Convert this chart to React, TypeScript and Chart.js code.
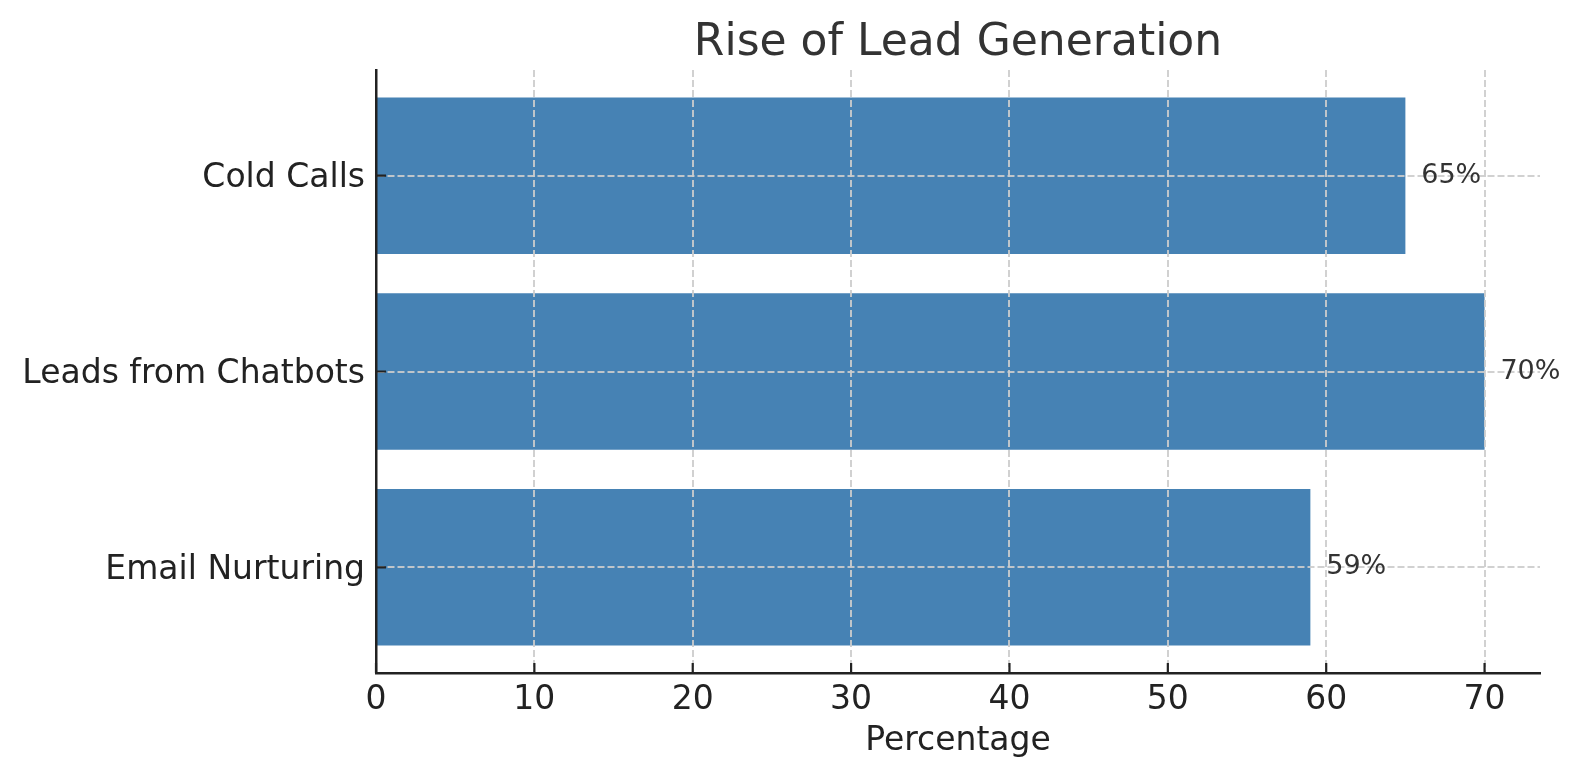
import React, { useRef, useEffect } from 'react';
import { Chart, registerables } from 'chart.js';

Chart.register(...registerables);

// Chart data
const categories = ['Cold Calls', 'Leads from Chatbots', 'Email Nurturing'];
const percentages = [65, 70, 59];
const xTicks = [0, 10, 20, 30, 40, 50, 60, 70];
const chartTitle = 'Rise of Lead Generation';
const xTitle = 'Percentage';

const FONT = "'DejaVu Sans', 'Liberation Sans', sans-serif";
const BAR_COLOR = '#4682B4';
const GRID_COLOR = 'rgba(204, 204, 204, 0.9)';
const AXIS_COLOR = '#222222';

// draws the title, the value labels and matplotlib-style inward tick marks
const overlayPlugin = {
  id: 'overlay',
  afterDraw(chart: any) {
    const { ctx, chartArea, scales } = chart;
    ctx.save();

    // inward tick marks
    ctx.strokeStyle = AXIS_COLOR;
    ctx.lineWidth = 2.2;
    ctx.beginPath();
    xTicks.forEach((v) => {
      const px = scales.x.getPixelForValue(v);
      ctx.moveTo(px, chartArea.bottom);
      ctx.lineTo(px, chartArea.bottom - 10);
    });
    categories.forEach((_, i) => {
      const py = scales.y.getPixelForValue(i);
      ctx.moveTo(chartArea.left, py);
      ctx.lineTo(chartArea.left + 10, py);
    });
    ctx.stroke();

    // value labels, one data unit right of each bar
    ctx.fillStyle = '#333333';
    ctx.font = `27px ${FONT}`;
    ctx.textAlign = 'left';
    ctx.textBaseline = 'middle';
    percentages.forEach((v, i) => {
      ctx.fillText(`${v}%`, scales.x.getPixelForValue(v + 1), scales.y.getPixelForValue(i));
    });

    // title, centred over the plot area
    ctx.font = `44px ${FONT}`;
    ctx.textAlign = 'center';
    ctx.textBaseline = 'alphabetic';
    ctx.fillText(chartTitle, (chartArea.left + chartArea.right) / 2, chartArea.top - 15);

    ctx.restore();
  },
};

function App() {
  const chartRef = useRef<HTMLCanvasElement | null>(null);
  const chartInstance = useRef<any>(null);

  useEffect(() => {
    const ctx = chartRef.current!.getContext('2d')!;
    if (chartInstance.current) chartInstance.current.destroy();

    chartInstance.current = new Chart(ctx, {
      type: 'bar',
      data: {
        datasets: [
          {
            label: xTitle,
            data: percentages.map((v, i) => ({ x: v, y: i })),
            backgroundColor: BAR_COLOR,
            borderWidth: 0,
            categoryPercentage: 1,
            barPercentage: 0.8,
          },
        ],
      },
      options: {
        indexAxis: 'y',
        animation: false,
        responsive: true,
        maintainAspectRatio: false,
        layout: { padding: { top: 70, right: 42, bottom: 0, left: 0 } },
        plugins: {
          legend: { display: false },
          tooltip: { enabled: false },
          title: { display: false },
        },
        scales: {
          x: {
            type: 'linear',
            position: 'bottom',
            min: 0,
            max: 73.5,
            afterBuildTicks: (scale: any) => {
              scale.ticks = xTicks.map((v) => ({ value: v }));
            },
            afterFit: (scale: any) => {
              scale.height = 107;
            },
            ticks: {
              color: AXIS_COLOR,
              font: { family: FONT, size: 33 },
              padding: 8,
              maxRotation: 0,
              autoSkip: false,
            },
            // grid above the bars, like matplotlib's default
            grid: {
              color: (c: any) => (c.tick && c.tick.value === 0 ? 'rgba(0,0,0,0)' : GRID_COLOR),
              lineWidth: 2,
              drawTicks: false,
              z: 1,
            },
            border: { display: true, color: AXIS_COLOR, width: 2.5, dash: [7, 3], z: 2 },
            title: {
              display: true,
              text: xTitle,
              color: AXIS_COLOR,
              font: { family: FONT, size: 33 },
              padding: { top: 0, bottom: 19 },
            },
          },
          y: {
            type: 'linear',
            position: 'left',
            reverse: true,
            offset: false,
            min: -0.54,
            max: 2.54,
            afterBuildTicks: (scale: any) => {
              scale.ticks = categories.map((_, i) => ({ value: i }));
            },
            afterFit: (scale: any) => {
              scale.width = 376;
            },
            ticks: {
              color: AXIS_COLOR,
              font: { family: FONT, size: 33 },
              padding: 11,
              labelOffset: 3,
              autoSkip: false,
              callback: (v: any) => categories[v],
            },
            grid: {
              color: GRID_COLOR,
              lineWidth: 2,
              drawTicks: false,
              offset: false,
              z: 1,
            },
            border: { display: true, color: AXIS_COLOR, width: 2.5, dash: [7, 3], z: 2 },
          },
        },
      } as any,
      plugins: [overlayPlugin],
    });

    return () => {
      if (chartInstance.current) {
        chartInstance.current.destroy();
        chartInstance.current = null;
      }
    };
  }, []);

  return (
    <div style={{ position: 'absolute', left: 0, top: 0, width: 1582, height: 780, background: '#ffffff' }}>
      <canvas ref={chartRef}></canvas>
    </div>
  );
}

export default App;
